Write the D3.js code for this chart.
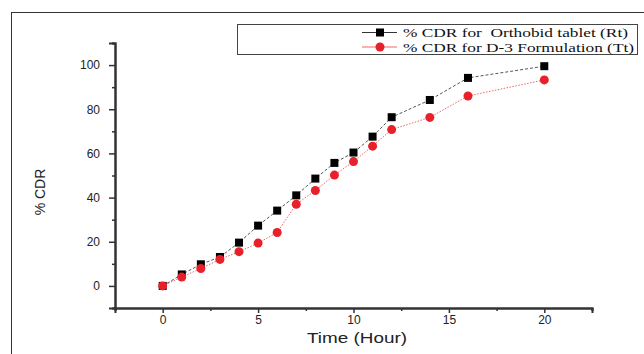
<!DOCTYPE html>
<html>
<head>
<meta charset="utf-8">
<script src="https://cdn.jsdelivr.net/npm/d3@7"></script>
<style>
  body { margin: 0; background: #fff; }
  svg { display: block; }
</style>
</head>
<body>
<svg width="644" height="354"></svg>
<script>
const time = [0, 1, 2, 3, 4, 5, 6, 7, 8, 9, 10, 11, 12, 14, 16, 20];
const cdrRt = [0, 5.2, 9.8, 13.1, 19.6, 27.3, 34.1, 41, 48.6, 55.7, 60.4, 67.6, 76.4, 84.2, 94.2, 99.5];
const cdrTt = [0, 4.0, 7.9, 12.0, 15.5, 19.4, 24.2, 37.0, 43.2, 50.2, 56.3, 63.3, 70.8, 76.3, 86.0, 93.3];
const xTicks = [0, 5, 10, 15, 20];
const yTicks = [0, 20, 40, 60, 80, 100];
const seriesNames = ["% CDR for  Orthobid tablet (Rt)", "% CDR for D-3 Formulation (Tt)"];

const svg = d3.select("svg");

// outer frame
svg.append("rect")
  .attr("x", 11.5).attr("y", 12.5)
  .attr("width", 640).attr("height", 360)
  .attr("fill", "none").attr("stroke", "#333").attr("stroke-width", 1);

const x = d3.scaleLinear().domain([-2.5, 22.5]).range([115, 592]);
const y = d3.scaleLinear().domain([-10, 110]).range([308, 43]);

const axisColor = "#333";
const sans = "Liberation Sans, Arial, sans-serif";

// x axis
const xAxis = svg.append("g").attr("transform", `translate(0,${y(-10)})`);
xAxis.call(d3.axisBottom(x).tickValues(xTicks).tickSize(5).tickPadding(2).tickFormat(d3.format("d")));
xAxis.append("g").call(d3.axisBottom(x).tickValues([-2.5, 2.5, 7.5, 12.5, 17.5, 22.5]).tickSize(3).tickFormat(""));

// y axis
const yAxis = svg.append("g").attr("transform", `translate(${x(-2.5)},0)`);
yAxis.call(d3.axisLeft(y).tickValues(yTicks).tickSize(6).tickPadding(9).tickFormat(d3.format("d")));
yAxis.append("g").call(d3.axisLeft(y).tickValues([-10, 10, 30, 50, 70, 90, 110]).tickSize(3).tickFormat(""));

svg.selectAll(".domain").attr("stroke", axisColor).attr("stroke-width", 2);
svg.selectAll(".tick line").attr("stroke", axisColor).attr("stroke-width", 1.5);
svg.selectAll(".tick text")
  .attr("font-family", sans)
  .attr("font-size", 12)
  .attr("fill", "#222");

// axis titles
svg.append("text")
  .attr("x", 357).attr("y", 343)
  .attr("text-anchor", "middle")
  .attr("font-family", sans)
  .attr("font-size", 15.5).attr("fill", "#222")
  .attr("textLength", 100).attr("lengthAdjust", "spacingAndGlyphs")
  .text("Time (Hour)");

svg.append("text")
  .attr("transform", "translate(45,192) rotate(-90)")
  .attr("text-anchor", "middle")
  .attr("font-family", sans)
  .attr("font-size", 14).attr("fill", "#222")
  .text("% CDR");

const rtData = time.map((t, i) => ({ t, v: cdrRt[i] }));
const ttData = time.map((t, i) => ({ t, v: cdrTt[i] }));
const line = d3.line().x(d => x(d.t)).y(d => y(d.v));

svg.append("path").datum(rtData)
  .attr("d", line).attr("fill", "none")
  .attr("stroke", "#555").attr("stroke-width", 1)
  .attr("stroke-dasharray", "3,2");

svg.append("path").datum(ttData)
  .attr("d", line).attr("fill", "none")
  .attr("stroke", "#e66").attr("stroke-width", 1)
  .attr("stroke-dasharray", "1.5,1.5");

svg.selectAll(".sq").data(rtData).enter().append("rect")
  .attr("x", d => x(d.t) - 4).attr("y", d => y(d.v) - 4)
  .attr("width", 8).attr("height", 8)
  .attr("fill", "#000");

svg.selectAll(".dot").data(ttData).enter().append("circle")
  .attr("cx", d => x(d.t)).attr("cy", d => y(d.v))
  .attr("r", 4.5)
  .attr("fill", "#e8202a");

// legend
const legend = svg.append("g");
legend.append("rect")
  .attr("x", 237.5).attr("y", 24.5).attr("width", 400).attr("height", 30)
  .attr("fill", "#fff").attr("stroke", "#444").attr("stroke-width", 1);

const rows = [
  { y: 32.5, color: "#333", mark: "sq", len: 225 },
  { y: 47, color: "#e66", mark: "dot", len: 231 }
];
rows.forEach((r, i) => {
  legend.append("line")
    .attr("x1", 362).attr("x2", 397).attr("y1", r.y).attr("y2", r.y)
    .attr("stroke", r.color).attr("stroke-width", 1);
  if (r.mark === "sq") {
    legend.append("rect").attr("x", 376).attr("y", r.y - 4).attr("width", 8).attr("height", 8).attr("fill", "#000");
  } else {
    legend.append("circle").attr("cx", 380).attr("cy", r.y).attr("r", 4.5).attr("fill", "#e8202a");
  }
  legend.append("text")
    .attr("x", 403).attr("y", r.y + 4.5)
    .attr("font-family", "Liberation Serif, Times New Roman, serif")
    .attr("font-size", 13).attr("fill", "#111")
    .attr("textLength", r.len).attr("lengthAdjust", "spacingAndGlyphs")
    .style("white-space", "pre")
    .text(seriesNames[i]);
});
</script>
</body>
</html>
